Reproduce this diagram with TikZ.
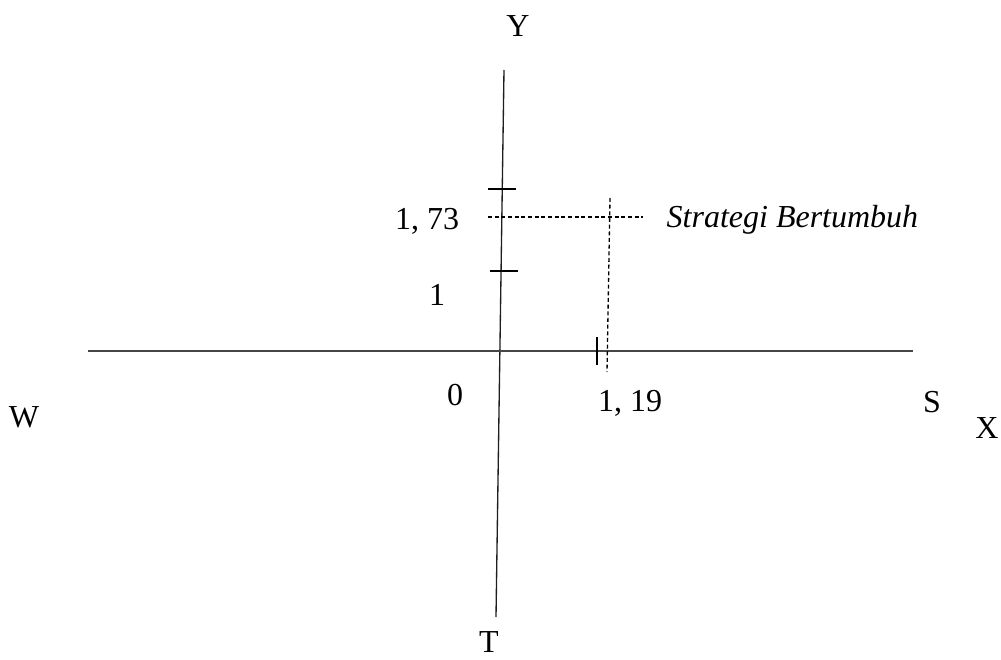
\documentclass[tikz,border=0pt]{standalone}
\usepackage{fontspec}
\setmainfont{Liberation Serif}

\tikzset{every picture/.style={line width=1pt}}
\tikzset{lbl/.style={anchor=base,inner sep=0.75pt,font=\fontsize{24}{28}\selectfont}}

\begin{document}
\begin{tikzpicture}[x=0.75pt,y=0.75pt,yscale=-1,xscale=1]
		\path (0,0) rectangle (1001,660); %set diagram to 1001 x 660
		
		% axis ends
		\coordinate (ytop) at (504,70);
		\coordinate (ybot) at (496,617);
		\coordinate (xleft) at (88,351);
		\coordinate (xright) at (913,351);
		% tick ends
		\coordinate (ta1) at (488,189);
		\coordinate (ta2) at (516,189);
		\coordinate (tb1) at (490,271);
		\coordinate (tb2) at (518,271);
		\coordinate (tc1) at (597,337);
		\coordinate (tc2) at (597,365);
		% guide ends
		\coordinate (ga1) at (488,217);
		\coordinate (ga2) at (643,217);
		\coordinate (gb1) at (610,198);
		\coordinate (gb2) at (607,372);
		
		%Straight Lines [vertical axis]
		\draw  [color={rgb,255:red,30;green,30;blue,30}]  (ytop) -- (ybot) ;
		%Straight Lines [horizontal axis]
		\draw  [color={rgb,255:red,70;green,70;blue,70}]  (xleft) -- (xright) ;
		%Straight Lines
		\draw    (ta1) -- (ta2) ;
		%Straight Lines
		\draw    (tb1) -- (tb2) ;
		%Straight Lines
		\draw    (tc1) -- (tc2) ;
		%Straight Lines
		\draw  [dash pattern={on 3pt off 2pt}]  (ga1) -- (ga2) ;
		%Straight Lines
		\draw  [dash pattern={on 3pt off 2pt}]  (gb1) -- (gb2) ;
		
		% Text Node
		\draw (518,37) node [lbl] (labY) {Y};
		% Text Node
		\draw (489,652) node [lbl] (labT) {T};
		% Text Node
		\draw (24,427) node [lbl] (labW) {W};
		% Text Node
		\draw (932,412) node [lbl] (labS) {S};
		% Text Node
		\draw (987,438) node [lbl] (labX) {X};
		% Text Node
		\draw (455,405) node [lbl] (labO) {0};
		% Text Node
		\draw (630,411) node [lbl] (labXval) {1, 19};
		% Text Node
		\draw (427,229) node [lbl] (labYval) {1, 73};
		% Text Node
		\draw (437,305) node [lbl] (labOne) {1};
		% Text Node
		\draw (665,228) node [lbl,anchor=base west] (labStrat) {\textit{Strategi Bertumbuh}};
	\end{tikzpicture}
\end{document}
